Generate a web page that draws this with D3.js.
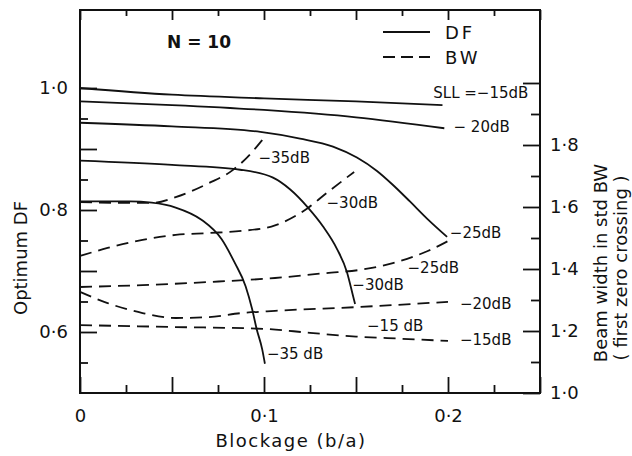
<!DOCTYPE html>
<html>
<head>
<meta charset="utf-8">
<script src="https://cdn.jsdelivr.net/npm/d3@7/dist/d3.min.js"></script>
<style>
  body { margin: 0; background: #fff; }
  text { font-family: "DejaVu Sans", sans-serif; fill: #111; }
</style>
</head>
<body>
<svg id="svg" width="632" height="456"></svg>
<script>
// optimum DF vs blockage b/a, one array per side lobe level
const dfSll15 = [[0, 1.0], [0.05, 0.989], [0.1, 0.983], [0.15, 0.978], [0.197, 0.972]];
const dfSll20 = [[0, 0.978], [0.05, 0.972], [0.1, 0.964], [0.15, 0.952], [0.198, 0.934]];
const dfSll25 = [[0, 0.943], [0.05, 0.937], [0.098, 0.928], [0.1196, 0.917], [0.1375, 0.904],
  [0.1505, 0.886], [0.1614, 0.864], [0.1701, 0.841], [0.1793, 0.814], [0.1886, 0.786],
  [0.1995, 0.756]];
const dfSll30 = [[0, 0.881], [0.05, 0.874], [0.087, 0.866], [0.1049, 0.853], [0.1141, 0.834],
  [0.1239, 0.804], [0.1321, 0.773], [0.1397, 0.736], [0.1451, 0.698], [0.1484, 0.659],
  [0.1495, 0.646]];
const dfSll35 = [[0, 0.814], [0.027, 0.814], [0.039, 0.812], [0.052, 0.804], [0.066, 0.784],
  [0.077, 0.752], [0.084, 0.714], [0.090, 0.675], [0.0935, 0.638], [0.096, 0.605],
  [0.099, 0.572], [0.1005, 0.548]];

// beam width (in std BW) vs blockage
const bwSll15 = [[0, 1.219], [0.05, 1.213], [0.1, 1.207], [0.125, 1.194], [0.15, 1.182],
  [0.175, 1.175], [0.2, 1.168]];
const bwSll20 = [[0, 1.326], [0.015, 1.290], [0.034, 1.258], [0.052, 1.242], [0.07, 1.245],
  [0.088, 1.258], [0.106, 1.265], [0.15, 1.277], [0.2, 1.294]];
const bwSll25 = [[0, 1.342], [0.034, 1.348], [0.07, 1.358], [0.106, 1.371], [0.134, 1.387],
  [0.152, 1.397], [0.17, 1.419], [0.189, 1.458], [0.2, 1.490]];
const bwSll30 = [[0, 1.442], [0.015, 1.468], [0.034, 1.494], [0.052, 1.510], [0.07, 1.516],
  [0.088, 1.523], [0.104, 1.537], [0.1239, 1.597], [0.134, 1.645], [0.149, 1.713]];
const bwSll35 = [[0, 1.616], [0.027, 1.613], [0.039, 1.613], [0.052, 1.632], [0.07, 1.677],
  [0.083, 1.719], [0.091, 1.761], [0.099, 1.816]];

const xMajorTicks = [0, 0.05, 0.1, 0.15, 0.2, 0.25];
const xMinorTicks = [0.025, 0.075, 0.125, 0.175, 0.225];
const xTickLabels = [0, 0.1, 0.2];
const dfMajorTicks = [0.6, 0.7, 0.8, 0.9, 1.0];
const dfMinorTicks = [0.55, 0.65, 0.75, 0.85, 0.95];
const dfTickLabels = [0.6, 0.8, 1.0];
const bwMajorTicks = [1.0, 1.2, 1.4, 1.6, 1.8, 2.0];
const bwMinorTicks = [1.1, 1.3, 1.5, 1.7, 1.9];
const bwTickLabels = [1.0, 1.2, 1.4, 1.6, 1.8];

// curve labels: [text, blockage, value, which axis]
const curveLabels = [
  ['SLL =\u221215dB', 0.192, 0.992, 'df'],
  ['\u2212 20dB', 0.203, 0.936, 'df'],
  ['\u221225dB', 0.201, 0.763, 'df'],
  ['\u221230dB', 0.148, 0.677, 'df'],
  ['\u221235 dB', 0.1016, 0.564, 'df'],
  ['\u221235dB', 0.097, 1.758, 'bw'],
  ['\u221230dB', 0.134, 1.613, 'bw'],
  ['\u221225dB', 0.178, 1.406, 'bw'],
  ['\u221220dB', 0.2065, 1.29, 'bw'],
  ['\u221215 dB', 0.156, 1.219, 'bw'],
  ['\u221215dB', 0.2065, 1.171, 'bw']
];

const svg = d3.select('#svg');
const pad = {left: 80, right: 540, top: 10, bottom: 393};

const x = d3.scaleLinear().domain([0, 0.25]).range([pad.left, pad.right]);
const yDF = d3.scaleLinear().domain([0.5, 1.0]).range([pad.bottom, 88]);
const yBW = d3.scaleLinear().domain([1.0, 2.0]).range([pad.bottom, 83]);

const fmt = d => d === 0 ? '0' : d3.format('.1f')(d).replace('.', '\u00b7');
const inList = (list) => (d => list.some(v => Math.abs(v - d) < 1e-9) ? fmt(d) : '');

function tidy(g) {
  g.select('.domain').remove();
  g.selectAll('line').attr('stroke', '#111').attr('stroke-width', 1.8);
  g.selectAll('text').attr('font-size', 18).attr('fill', '#111')
    .style('font-family', '"DejaVu Sans", sans-serif');
}

// frame
svg.append('rect')
  .attr('x', pad.left).attr('y', pad.top)
  .attr('width', pad.right - pad.left).attr('height', pad.bottom - pad.top)
  .attr('fill', 'none').attr('stroke', '#111').attr('stroke-width', 2);

// bottom axis
svg.append('g').attr('transform', `translate(0,${pad.bottom})`)
  .call(d3.axisBottom(x).tickValues(xMajorTicks).tickSizeInner(-16).tickSizeOuter(0)
    .tickPadding(16).tickFormat(inList(xTickLabels)))
  .call(tidy);
svg.append('g').attr('transform', `translate(0,${pad.bottom})`)
  .call(d3.axisBottom(x).tickValues(xMinorTicks).tickSizeInner(-8).tickSizeOuter(0).tickFormat(''))
  .call(tidy);

// top ticks
svg.append('g').attr('transform', `translate(0,${pad.top})`)
  .call(d3.axisTop(x).tickValues(xMajorTicks).tickSizeInner(-10).tickSizeOuter(0).tickFormat(''))
  .call(tidy);
svg.append('g').attr('transform', `translate(0,${pad.top})`)
  .call(d3.axisTop(x).tickValues(xMinorTicks).tickSizeInner(-6).tickSizeOuter(0).tickFormat(''))
  .call(tidy);

// left axis (DF)
svg.append('g').attr('transform', `translate(${pad.left},0)`)
  .call(d3.axisLeft(yDF).tickValues(dfMajorTicks).tickSizeInner(-17).tickSizeOuter(0)
    .tickPadding(12).tickFormat(inList(dfTickLabels)))
  .call(tidy);
svg.append('g').attr('transform', `translate(${pad.left},0)`)
  .call(d3.axisLeft(yDF).tickValues(dfMinorTicks).tickSizeInner(-8).tickSizeOuter(0).tickFormat(''))
  .call(tidy);

// right axis (BW)
svg.append('g').attr('transform', `translate(${pad.right},0)`)
  .call(d3.axisRight(yBW).tickValues(bwMajorTicks).tickSizeInner(-17).tickSizeOuter(0)
    .tickPadding(10).tickFormat(inList(bwTickLabels)))
  .call(tidy);
svg.append('g').attr('transform', `translate(${pad.right},0)`)
  .call(d3.axisRight(yBW).tickValues(bwMinorTicks).tickSizeInner(-9).tickSizeOuter(0).tickFormat(''))
  .call(tidy);

// curves
const lineDF = d3.line().x(d => x(d[0])).y(d => yDF(d[1])).curve(d3.curveMonotoneX);
const lineBW = d3.line().x(d => x(d[0])).y(d => yBW(d[1])).curve(d3.curveMonotoneX);

const dfCurves = [dfSll15, dfSll20, dfSll25, dfSll30, dfSll35];
const bwCurves = [bwSll15, bwSll20, bwSll25, bwSll30, bwSll35];

svg.append('g').selectAll('path')
  .data(dfCurves)
  .enter()
  .append('path')
  .attr('d', lineDF)
  .attr('fill', 'none')
  .attr('stroke', '#111')
  .attr('stroke-width', 1.8);

svg.append('g').selectAll('path')
  .data(bwCurves)
  .enter()
  .append('path')
  .attr('d', lineBW)
  .attr('fill', 'none')
  .attr('stroke', '#111')
  .attr('stroke-width', 1.8)
  .attr('stroke-dasharray', '12,7');

// curve labels
svg.append('g').selectAll('text')
  .data(curveLabels)
  .enter()
  .append('text')
  .attr('x', d => x(d[1]))
  .attr('y', d => d[3] === 'df' ? yDF(d[2]) : yBW(d[2]))
  .attr('dy', '0.36em')
  .attr('font-size', 15)
  .text(d => d[0]);

// legend
svg.append('line').attr('x1', 383).attr('x2', 430).attr('y1', 32).attr('y2', 32)
  .attr('stroke', '#111').attr('stroke-width', 2);
svg.append('line').attr('x1', 383).attr('x2', 430).attr('y1', 57).attr('y2', 57)
  .attr('stroke', '#111').attr('stroke-width', 2).attr('stroke-dasharray', '12,6');
svg.append('text').attr('x', 445).attr('y', 39).attr('font-size', 18)
  .attr('letter-spacing', 3).text('DF');
svg.append('text').attr('x', 445).attr('y', 64).attr('font-size', 18)
  .attr('letter-spacing', 3).text('BW');

svg.append('text').attr('x', 199).attr('y', 48).attr('font-size', 17)
  .attr('font-weight', 'bold').attr('text-anchor', 'middle').text('N = 10');

// axis titles
svg.append('text').attr('x', 291).attr('y', 447).attr('font-size', 18)
  .attr('letter-spacing', 1.5).attr('text-anchor', 'middle').text('Blockage (b/a)');
svg.append('text').attr('transform', 'translate(27,258) rotate(-90)')
  .attr('font-size', 18).attr('text-anchor', 'middle').text('Optimum DF');
svg.append('text').attr('transform', 'translate(607,263) rotate(-90)')
  .attr('font-size', 18).attr('text-anchor', 'middle').text('Beam width in std  BW');
svg.append('text').attr('transform', 'translate(627,268) rotate(-90)')
  .attr('font-size', 18).attr('text-anchor', 'middle').text('( first zero crossing )');
</script>
</body>
</html>
